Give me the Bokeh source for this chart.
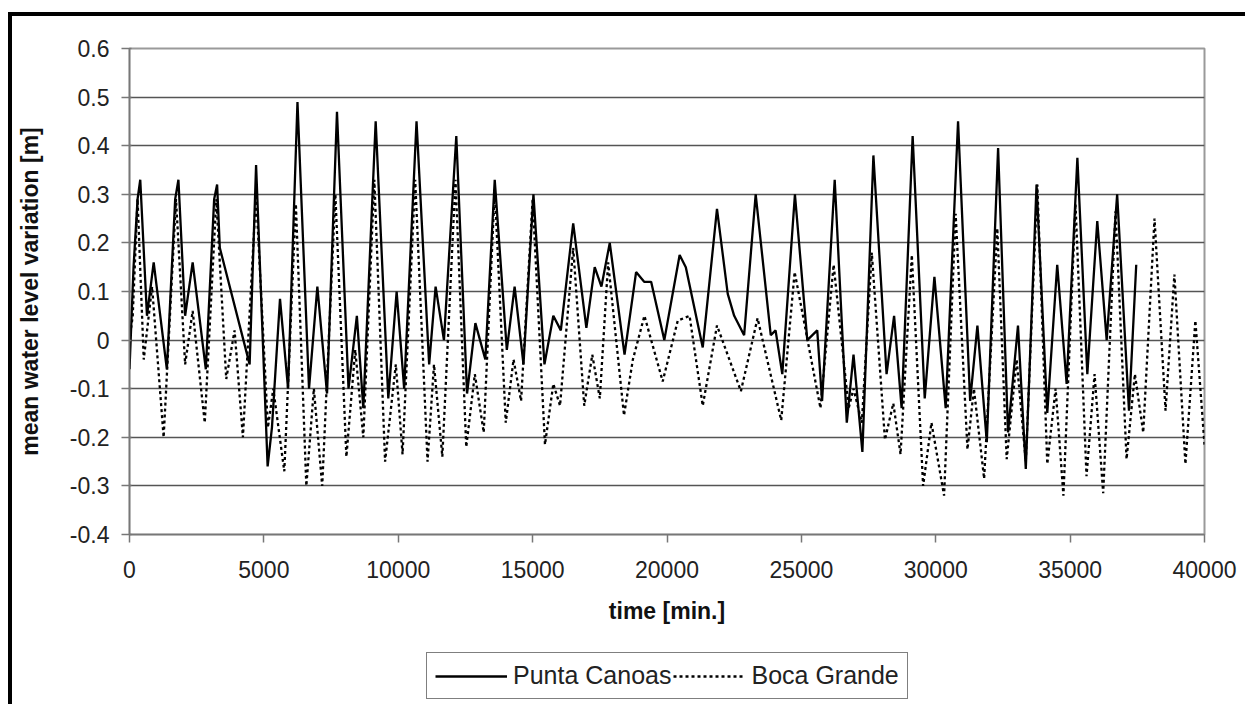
from bokeh.plotting import figure
from bokeh.layouts import column
from bokeh.models import (ColumnDataSource, Legend, LegendItem, FixedTicker,
                          CustomJSTickFormatter)
from bokeh.embed import file_html
from bokeh.resources import INLINE

# ---- data ----
punta_t = [0, 150, 300, 400, 650, 900, 1390, 1700, 1820, 2070, 2350, 2840, 3150, 3260, 3360,
           4470, 4710, 5140, 5300, 5600, 5900, 6250, 6680, 6990, 7350, 7720, 8150, 8460, 8700,
           9160, 9630, 9940, 10220, 10680, 11150, 11390, 11700, 12160, 12560, 12870, 13240,
           13590, 14040, 14330, 14660, 15030, 15440, 15770, 16050, 16510, 17000, 17310, 17560,
           17870, 18420, 18850, 19150, 19410, 19900, 20470, 20700, 21330, 21860, 22260, 22500,
           22870, 23300, 23860, 24040, 24290, 24760, 25220, 25590, 25770, 26240, 26690, 26940,
           27270, 27680, 28170, 28450, 28730, 29140, 29590, 29950, 30370, 30830, 31280, 31550,
           31900, 32320, 32690, 33060, 33350, 33750, 34150, 34520, 34870, 35270, 35640, 36010,
           36360, 36750, 37190, 37460]
punta_v = [-0.06, 0.15, 0.29, 0.33, 0.05, 0.16, -0.06, 0.29, 0.33, 0.05, 0.16, -0.06, 0.29, 0.32, 0.19,
           -0.05, 0.36, -0.26, -0.18, 0.085, -0.10, 0.49, -0.10, 0.11, -0.11, 0.47, -0.10, 0.05, -0.14,
           0.45, -0.12, 0.10, -0.10, 0.45, -0.05, 0.11, 0.00, 0.42, -0.11, 0.035, -0.04,
           0.33, -0.02, 0.11, -0.05, 0.30, -0.05, 0.05, 0.02, 0.24, 0.025, 0.15, 0.11,
           0.20, -0.03, 0.14, 0.12, 0.12, 0.00, 0.175, 0.15, -0.015, 0.27, 0.095, 0.05,
           0.01, 0.30, 0.01, 0.02, -0.07, 0.30, 0.00, 0.02, -0.125, 0.33, -0.17, -0.03,
           -0.23, 0.38, -0.07, 0.05, -0.14, 0.42, -0.12, 0.13, -0.14, 0.45, -0.125, 0.03,
           -0.21, 0.395, -0.19, 0.03, -0.265, 0.32, -0.15, 0.155, -0.09, 0.375, -0.07, 0.245,
           0.00, 0.30, -0.145, 0.155]

boca_t = [0, 120, 300, 530, 840, 1270, 1730, 2070, 2350, 2800, 3230, 3600, 3910, 4220, 4710,
          5150, 5350, 5760, 6190, 6580, 6860, 7170, 7660, 8070, 8400, 8700, 9110, 9510, 9910,
          10160, 10630, 11090, 11330, 11640, 12130, 12530, 12850, 13180, 13590, 14000, 14290,
          14570, 15000, 15460, 15770, 16020, 16510, 16920, 17220, 17500, 17810, 18400, 18730,
          19160, 19840, 20400, 20840, 21330, 21860, 22750, 23370, 24250, 24750, 25710, 26200,
          26760, 26940, 27250, 27620, 28110, 28420, 28690, 29110, 29530, 29840, 30310, 30740,
          31180, 31420, 31800, 32290, 32640, 33010, 33350, 33780, 34150, 34460, 34750, 35200,
          35610, 35910, 36230, 36690, 37100, 37410, 37720, 38140, 38550, 38880, 39290, 39660, 40000]
boca_v = [0.0, 0.05, 0.29, -0.04, 0.11, -0.20, 0.29, -0.05, 0.06, -0.17, 0.29, -0.08, 0.02, -0.20, 0.30,
          -0.18, -0.10, -0.27, 0.28, -0.30, -0.10, -0.30, 0.30, -0.24, -0.02, -0.20, 0.33, -0.25, -0.05,
          -0.235, 0.33, -0.25, -0.05, -0.24, 0.33, -0.22, -0.07, -0.19, 0.31, -0.17, -0.04,
          -0.125, 0.29, -0.215, -0.09, -0.135, 0.19, -0.135, -0.03, -0.12, 0.16, -0.155, -0.04,
          0.05, -0.085, 0.04, 0.05, -0.135, 0.03, -0.105, 0.045, -0.165, 0.14, -0.14, 0.155,
          -0.14, -0.10, -0.17, 0.18, -0.205, -0.13, -0.235, 0.175, -0.30, -0.17, -0.32, 0.26,
          -0.225, -0.10, -0.285, 0.23, -0.245, -0.04, -0.25, 0.32, -0.255, -0.10, -0.32, 0.28,
          -0.28, -0.07, -0.315, 0.265, -0.245, -0.07, -0.19, 0.25, -0.145, 0.135, -0.255, 0.04, -0.215]

x_ticks = [0, 5000, 10000, 15000, 20000, 25000, 30000, 35000, 40000]
y_ticks = [-0.4, -0.3, -0.2, -0.1, 0.0, 0.1, 0.2, 0.3, 0.4, 0.5, 0.6]

series_names = ["Punta Canoas", "Boca Grande"]
x_title = "time [min.]"
y_title = "mean water level variation [m]"

FONT = "Liberation Sans"
DASH = "3 3"
LW = 2.3

# ---- main chart ----
p = figure(width=1233, height=629, x_range=(0, 40000), y_range=(-0.4, 0.6),
           output_backend="svg", toolbar_location=None,
           min_border_left=117, min_border_top=32, min_border_right=41, min_border_bottom=111)

src_p = ColumnDataSource(dict(t=punta_t, v=punta_v))
src_b = ColumnDataSource(dict(t=boca_t, v=boca_v))
p.line("t", "v", source=src_b, line_color="black", line_width=LW, line_dash=DASH)
p.line("t", "v", source=src_p, line_color="black", line_width=LW)

p.background_fill_color = "white"
p.border_fill_color = "white"
p.outline_line_color = "#9a9a9a"
p.outline_line_width = 2

p.xgrid.grid_line_color = None
p.ygrid.grid_line_color = "#555555"
p.ygrid.grid_line_width = 1.5

p.xaxis.ticker = FixedTicker(ticks=x_ticks)
p.yaxis.ticker = FixedTicker(ticks=y_ticks)
p.yaxis.formatter = CustomJSTickFormatter(code="""
    const s = tick.toFixed(1);
    return (s === "0.0" || s === "-0.0") ? "0" : s;
""")

for ax in (p.xaxis[0], p.yaxis[0]):
    ax.axis_line_color = "#777777"
    ax.axis_line_width = 1.5
    ax.major_tick_line_color = "#777777"
    ax.major_tick_line_width = 1.5
    ax.major_tick_out = 8
    ax.major_tick_in = 0
    ax.minor_tick_line_color = None
    ax.major_label_text_font = FONT
    ax.major_label_text_font_size = "23px"
    ax.major_label_text_color = "#222222"
    ax.axis_label_text_font = FONT
    ax.axis_label_text_font_size = "23px"
    ax.axis_label_text_font_style = "bold"
    ax.axis_label_text_color = "#111111"

p.yaxis.major_tick_in = 2
p.xaxis.axis_label = x_title
p.yaxis.axis_label = y_title
p.yaxis.major_label_standoff = 12
p.yaxis.axis_label_standoff = 24
p.xaxis.major_label_standoff = 18
p.xaxis.axis_label_standoff = 17

# ---- legend strip below the chart (its frame is aligned with the chart's frame) ----
q = figure(width=1233, height=59, x_range=(0, 1), y_range=(0, 1),
           output_backend="svg", toolbar_location=None,
           min_border_left=0, min_border_right=0, min_border_top=0, min_border_bottom=0)
q.axis.visible = False
q.grid.grid_line_color = None
q.outline_line_color = None
q.background_fill_color = "white"
q.border_fill_color = "white"
# sample glyphs only (placed outside the visible range)
lp = q.line(x=[5, 6], y=[5, 5], line_color="black", line_width=LW)
lb = q.line(x=[5, 6], y=[5, 5], line_color="black", line_width=LW, line_dash=DASH)

legend = Legend(items=[LegendItem(label=series_names[0], renderers=[lp]),
                       LegendItem(label=series_names[1], renderers=[lb])],
                orientation="horizontal", location=(297, 5))
legend.label_text_font = FONT
legend.label_text_font_size = "25px"
legend.label_text_color = "#222222"
legend.glyph_width = 72
legend.glyph_height = 22
legend.label_standoff = 6
legend.spacing = 2
legend.padding = 8
legend.margin = 0
legend.border_line_color = "black"
legend.border_line_width = 1.5
legend.background_fill_color = "white"
q.add_layout(legend, "center")

page = column(p, q, spacing=0)
page.styles = {"margin-top": "12px", "margin-left": "8px",
               "border-top": "4px solid black", "border-left": "4px solid black"}

open("out.html", "w").write(file_html(page, INLINE))
